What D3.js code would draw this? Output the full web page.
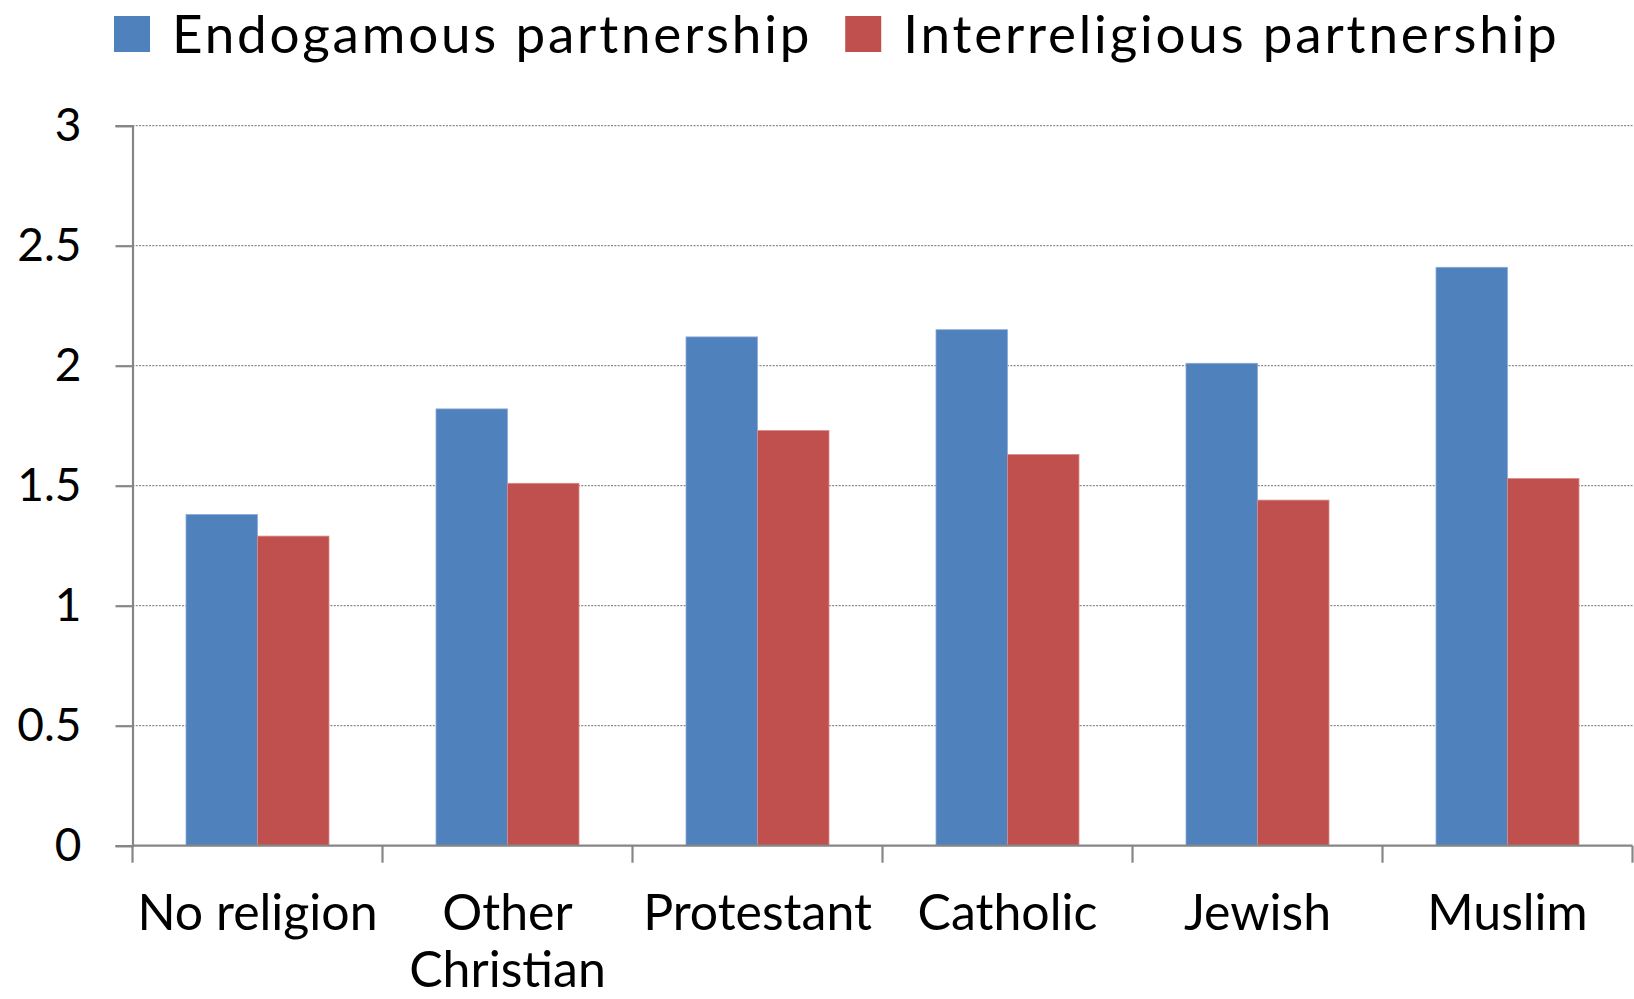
<!DOCTYPE html>
<html>
<head>
<meta charset="utf-8">
<script src="https://cdn.jsdelivr.net/npm/d3@7"></script>
<style>
  body { margin: 0; background: #fff; }
  text { font-family: Lato, "Open Sans", sans-serif; fill: #000; }
</style>
</head>
<body>
<div id="chart"></div>
<script>
// Chart data
var categories = ["No religion", "Other Christian", "Protestant", "Catholic", "Jewish", "Muslim"];
var seriesNames = ["Endogamous partnership", "Interreligious partnership"];
var endogamous = [1.38, 1.82, 2.12, 2.15, 2.01, 2.41];
var interreligious = [1.29, 1.51, 1.73, 1.63, 1.44, 1.53];
var yTicks = [0, 0.5, 1, 1.5, 2, 2.5, 3];
var colors = ["#4F81BD", "#C0504D"];
var strokes = ["#8EAAD8", "#D88C8A"];

// Set up SVG chart
var svgWidth = 1634;
var svgHeight = 999;

var margin = { top: 125.7, right: 1.5, bottom: 153.3, left: 132.5 };
var chartWidth = svgWidth - margin.left - margin.right;
var chartHeight = svgHeight - margin.top - margin.bottom;

var svg = d3.select("#chart")
  .append("svg")
  .attr("width", svgWidth)
  .attr("height", svgHeight);

var chartGroup = svg.append("g")
  .attr("transform", `translate(${margin.left}, ${margin.top})`);

var rows = categories.map((c, i) => ({ cat: c, values: [endogamous[i], interreligious[i]] }));

// Scales
var x0 = d3.scaleBand()
  .domain(categories)
  .range([0, chartWidth])
  .paddingInner(0.428)
  .paddingOuter(0.214);

var x1 = d3.scaleBand()
  .domain([0, 1])
  .range([0, x0.bandwidth()]);

var yLinearScale = d3.scaleLinear()
  .domain([0, 3])
  .range([chartHeight, 0]);

// Gridlines (dotted)
chartGroup.append("g")
  .selectAll("line")
  .data(yTicks.filter(d => d > 0))
  .enter()
  .append("line")
  .attr("x1", 0)
  .attr("x2", chartWidth)
  .attr("y1", d => yLinearScale(d))
  .attr("y2", d => yLinearScale(d))
  .attr("stroke", "#8a8a8a")
  .attr("stroke-width", 1.2)
  .attr("stroke-dasharray", "2,1.3");

// Bars
var groups = chartGroup.selectAll(".cat")
  .data(rows)
  .enter()
  .append("g")
  .attr("transform", d => `translate(${x0(d.cat)}, 0)`);

groups.selectAll("rect")
  .data(d => d.values)
  .enter()
  .append("rect")
  .attr("x", (d, i) => x1(i))
  .attr("y", d => yLinearScale(d))
  .attr("width", x1.bandwidth())
  .attr("height", d => chartHeight - yLinearScale(d))
  .attr("fill", (d, i) => colors[i])
  .attr("stroke", (d, i) => strokes[i])
  .attr("stroke-width", 0.8);

// Y axis
var leftAxis = d3.axisLeft(yLinearScale)
  .tickValues(yTicks)
  .tickFormat(d => String(d))
  .tickSize(17)
  .tickPadding(34);

var yAxis = chartGroup.append("g").call(leftAxis);
yAxis.select(".domain").attr("stroke", "#868686").attr("stroke-width", 2.2);
yAxis.selectAll(".tick line").attr("stroke", "#868686").attr("stroke-width", 2.2);
yAxis.selectAll(".tick text")
  .attr("font-size", 46)
  .attr("font-family", "Lato, sans-serif")
  .attr("fill", "#000");

// X axis line and boundary ticks
var xAxis = chartGroup.append("g")
  .attr("transform", `translate(0, ${chartHeight})`);

xAxis.append("line")
  .attr("x1", 0)
  .attr("x2", chartWidth)
  .attr("stroke", "#868686")
  .attr("stroke-width", 2.2);

var boundaries = categories.map(c => x0(c) - x0.step() * x0.paddingInner() / 2);
boundaries.push(chartWidth);

xAxis.selectAll(".bt")
  .data(boundaries)
  .enter()
  .append("line")
  .attr("x1", d => d)
  .attr("x2", d => d)
  .attr("y1", 0)
  .attr("y2", 17)
  .attr("stroke", "#868686")
  .attr("stroke-width", 2.2);

// Category labels, wrapped to the category width
var catLabels = xAxis.selectAll(".cl")
  .data(categories)
  .enter()
  .append("text")
  .attr("text-anchor", "middle")
  .attr("font-size", 50)
  .attr("x", d => x0(d) + x0.bandwidth() / 2)
  .attr("y", 84);

catLabels.each(function(d) {
  var text = d3.select(this);
  var cx = text.attr("x");
  var words = d.split(" ");
  var line = [];
  var tspan = text.append("tspan").attr("x", cx).attr("dy", 0);
  words.forEach(function(w) {
    line.push(w);
    tspan.text(line.join(" "));
    if (tspan.node().getComputedTextLength() > x0.step() && line.length > 1) {
      line.pop();
      tspan.text(line.join(" "));
      line = [w];
      tspan = text.append("tspan").attr("x", cx).attr("dy", 57).text(w);
    }
  });
});

// Legend
var legend = svg.append("g");
var lx = 114;
seriesNames.forEach(function(name, i) {
  var item = legend.append("g").attr("transform", `translate(${lx}, 0)`);
  item.append("rect")
    .attr("x", 0)
    .attr("y", 16)
    .attr("width", 36)
    .attr("height", 36)
    .attr("fill", colors[i]);
  var t = item.append("text")
    .attr("x", 58)
    .attr("y", 53)
    .attr("font-size", 53)
    .attr("letter-spacing", 2.8)
    .text(name);
  lx += 58 + t.node().getComputedTextLength() + 33;
});
</script>
</body>
</html>
